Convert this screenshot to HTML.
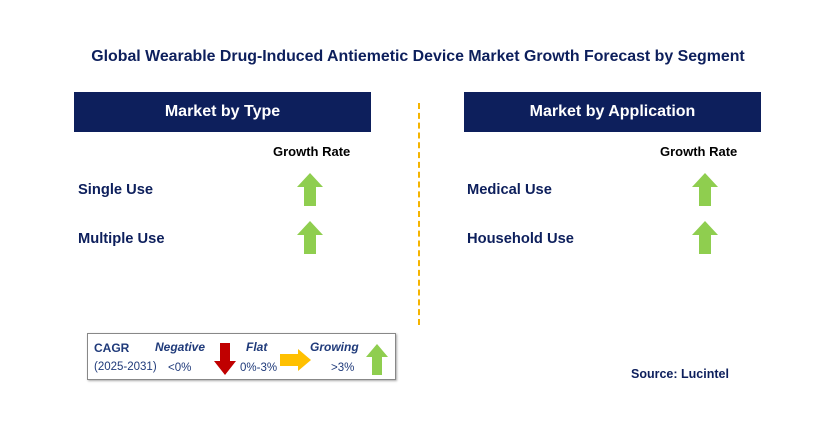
<!DOCTYPE html>
<html><head><meta charset="utf-8"><style>
body{margin:0;width:825px;height:437px;background:#fff;position:relative;overflow:hidden;font-family:"Liberation Sans",sans-serif}
.a{position:absolute}
.hdr{background:#0d1f5c;color:#fff;font-weight:bold;font-size:16px;text-align:center;line-height:40px;height:40px}
.lbl{font-weight:bold;font-size:14.7px;color:#0d1f5c}
.gr{font-weight:bold;font-size:13px;color:#000}
.lg{font-size:11.5px;color:#1f3a7a}
.lgb{font-size:12px;font-weight:bold;font-style:italic;color:#1f3a7a}
</style></head><body>
<div class="a" style="left:0;width:836px;top:48px;text-align:center;font-weight:bold;font-size:15.9px;color:#0d1f5c">Global Wearable Drug-Induced Antiemetic Device Market Growth Forecast by Segment</div>
<div class="a hdr" style="left:74px;top:92px;width:297px">Market by Type</div>
<div class="a hdr" style="left:464px;top:92px;width:297px">Market by Application</div>
<div class="a" style="left:418px;top:103px;height:222px;border-left:2px dashed #f5b400"></div>
<div class="a gr" style="left:273px;top:144px">Growth Rate</div>
<div class="a gr" style="left:660px;top:144px">Growth Rate</div>
<div class="a lbl" style="left:78px;top:182px">Single Use</div>
<div class="a lbl" style="left:78px;top:231px">Multiple Use</div>
<div class="a lbl" style="left:467px;top:182px">Medical Use</div>
<div class="a lbl" style="left:467px;top:231px">Household Use</div>
<svg class="a" style="left:297px;top:173px" width="26" height="33"><polygon points="13,0 26,14 19,14 19,33 7,33 7,14 0,14" fill="#8fce4f"/></svg>
<svg class="a" style="left:297px;top:221px" width="26" height="33"><polygon points="13,0 26,14 19,14 19,33 7,33 7,14 0,14" fill="#8fce4f"/></svg>
<svg class="a" style="left:692px;top:173px" width="26" height="33"><polygon points="13,0 26,14 19,14 19,33 7,33 7,14 0,14" fill="#8fce4f"/></svg>
<svg class="a" style="left:692px;top:221px" width="26" height="33"><polygon points="13,0 26,14 19,14 19,33 7,33 7,14 0,14" fill="#8fce4f"/></svg>
<div class="a" style="left:87px;top:333px;width:307px;height:45px;border:1px solid #888;box-shadow:1px 1px 2px #aaa"></div>
<div class="a lg" style="left:94px;top:341px;font-weight:bold;font-size:12px">CAGR</div>
<div class="a lg" style="left:94px;top:361px">(2025-2031)</div>
<div class="a lgb" style="left:155px;top:340px">Negative</div>
<div class="a lg" style="left:168px;top:362px">&lt;0%</div>
<svg class="a" style="left:214px;top:343px" width="22" height="32"><polygon points="6,0 16,0 16,18 22,18 11,32 0,18 6,18" fill="#c00000"/></svg>
<div class="a lgb" style="left:246px;top:340px">Flat</div>
<div class="a lg" style="left:240px;top:362px">0%-3%</div>
<svg class="a" style="left:280px;top:349px" width="31" height="22"><polygon points="0,5 18,5 18,0 31,11 18,22 18,17 0,17" fill="#ffc000"/></svg>
<div class="a lgb" style="left:310px;top:340px">Growing</div>
<div class="a lg" style="left:331px;top:362px">&gt;3%</div>
<svg class="a" style="left:366px;top:344px" width="22" height="31"><polygon points="11,0 22,13 16,13 16,31 6,31 6,13 0,13" fill="#8fce4f"/></svg>
<div class="a" style="left:631px;top:367px;font-weight:bold;font-size:12.5px;color:#0d1f5c">Source: Lucintel</div>
</body></html>
